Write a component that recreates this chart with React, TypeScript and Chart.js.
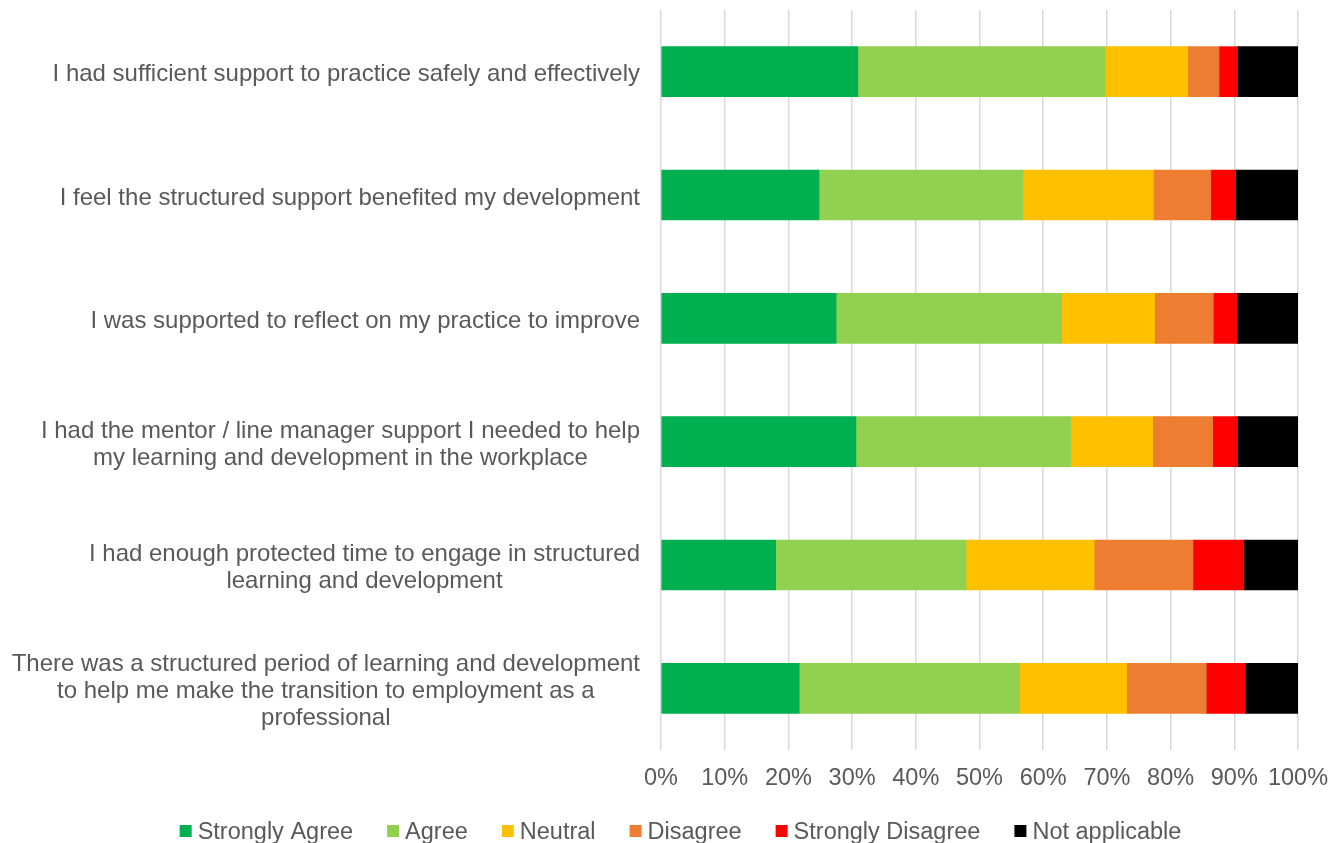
import React, { useEffect, useRef } from 'react';
import { Chart, registerables } from 'chart.js';

Chart.register(...registerables);

const categories: string[][] = [
  ['I had sufficient support to practice safely and effectively'],
  ['I feel the structured support benefited my development'],
  ['I was supported to reflect on my practice to improve'],
  ['I had the mentor / line manager support I needed to help', 'my learning and development in the workplace'],
  ['I had enough protected time to engage in structured', 'learning and development'],
  ['There was a structured period of learning and development', 'to help me make the transition to employment as a', 'professional'],
];

const seriesNames = ['Strongly Agree', 'Agree', 'Neutral', 'Disagree', 'Strongly Disagree', 'Not applicable'];

const stronglyAgree = [30.9, 24.8, 27.5, 30.6, 18.0, 21.7];
const agree = [38.8, 32.0, 35.4, 33.7, 29.9, 34.6];
const neutral = [13.0, 20.5, 14.6, 12.9, 20.1, 16.8];
const disagree = [4.9, 9.0, 9.2, 9.4, 15.5, 12.5];
const stronglyDisagree = [2.9, 3.9, 3.7, 3.9, 8.0, 6.1];
const notApplicable = [9.5, 9.8, 9.6, 9.5, 8.5, 8.3];

const seriesColors = ['#00B050', '#92D050', '#FFC000', '#ED7D31', '#FF0000', '#000000'];

const FONT = "'Liberation Sans', Arial, sans-serif";
const TEXT_COLOR = '#595959';

const customText = {
  id: 'customText',
  afterDraw(chart: any) {
    const ctx: CanvasRenderingContext2D = chart.ctx;
    const yScale = chart.scales.y;
    ctx.save();
    ctx.fillStyle = TEXT_COLOR;
    // category labels: blocks right-aligned, lines centered within block
    ctx.font = `24px ${FONT}`;
    ctx.textAlign = 'center';
    ctx.textBaseline = 'alphabetic';
    const lineH = 27;
    categories.forEach((lines, i) => {
      const cy = yScale.getPixelForTick(i);
      const maxW = Math.max(...lines.map((l) => ctx.measureText(l).width));
      const cx = chart.chartArea.left - 21 - maxW / 2;
      const n = lines.length;
      lines.forEach((l, j) => {
        ctx.fillText(l, cx, cy + (j - (n - 1) / 2) * lineH + 9.5);
      });
    });
    // legend
    ctx.font = `23.5px ${FONT}`;
    ctx.textAlign = 'left';
    const box = 12;
    const gap = 6;
    const spacing = 34;
    const widths = seriesNames.map((s) => ctx.measureText(s).width);
    const total = widths.reduce((a, w) => a + box + gap + w, 0) + spacing * (seriesNames.length - 1);
    let x = 680.5 - total / 2;
    const boxTop = 825;
    const baseY = 839;
    seriesNames.forEach((s, i) => {
      ctx.fillStyle = seriesColors[i];
      ctx.fillRect(x, boxTop, box, box);
      ctx.fillStyle = TEXT_COLOR;
      ctx.fillText(s, x + box + gap, baseY);
      x += box + gap + widths[i] + spacing;
    });
    ctx.restore();
  },
};

export default function App() {
  const canvasRef = useRef<HTMLCanvasElement | null>(null);

  useEffect(() => {
    if (!canvasRef.current) return;
    const values = [stronglyAgree, agree, neutral, disagree, stronglyDisagree, notApplicable];
    const chart = new Chart(canvasRef.current, {
      type: 'bar',
      data: {
        labels: categories.map((c) => c.join(' ')),
        datasets: seriesNames.map((name, i) => ({
          label: name,
          data: values[i],
          backgroundColor: seriesColors[i],
          borderWidth: 0,
          barThickness: 50,
        })),
      },
      options: {
        indexAxis: 'y',
        responsive: false,
        animation: false,
        devicePixelRatio: 1,
        layout: { padding: { left: 0, right: 45, top: 10, bottom: 0 } },
        plugins: {
          legend: { display: false },
          tooltip: { enabled: false },
        },
        scales: {
          x: {
            stacked: true,
            min: 0,
            max: 100,
            border: { display: false },
            grid: { color: '#D9D9D9', lineWidth: 1.5, drawTicks: false },
            ticks: {
              stepSize: 10,
              padding: 14,
              autoSkip: false,
              maxRotation: 0,
              minRotation: 0,
              color: TEXT_COLOR,
              font: { family: FONT, size: 23.5 },
              callback: (v: any) => `${v}%`,
            },
            afterFit: (scale: any) => {
              scale.height = 93;
            },
          },
          y: {
            stacked: true,
            border: { display: false },
            grid: { display: false, drawTicks: false },
            ticks: { display: false },
            afterFit: (scale: any) => {
              scale.width = 661;
            },
          },
        },
      },
      plugins: [customText],
    });
    return () => chart.destroy();
  }, []);

  return (
    <div style={{ position: 'fixed', left: 0, top: 0, width: 1343, height: 843, background: '#fff' }}>
      <canvas ref={canvasRef} width={1343} height={843} />
    </div>
  );
}
